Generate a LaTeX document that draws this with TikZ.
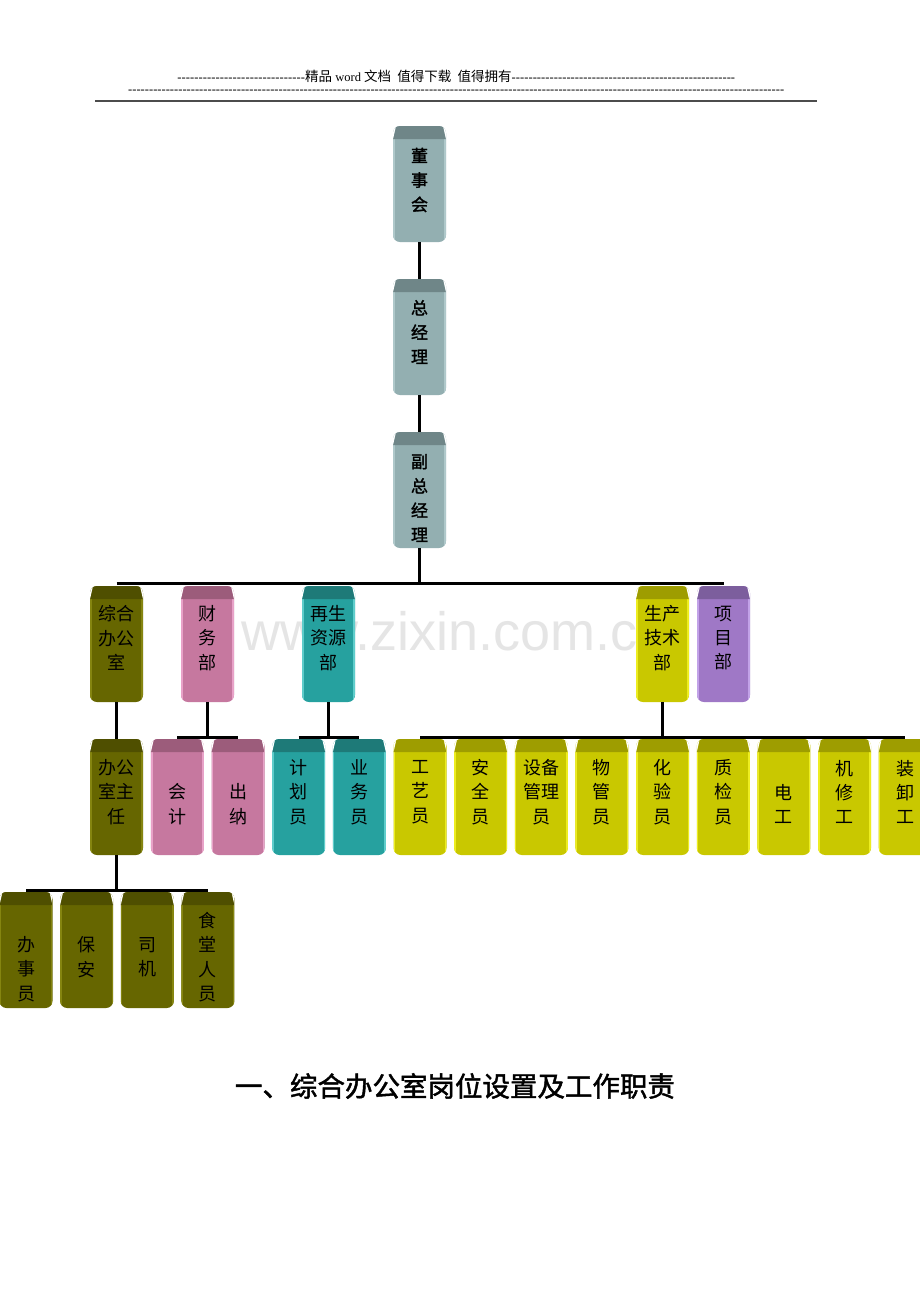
\documentclass[tikz,border=0pt]{standalone}
\usepackage{fontspec}
\setmainfont{Liberation Serif}
\newfontfamily\cjk{Noto Sans CJK SC}
\newfontfamily\cjkb[FakeBold=1.6]{Noto Sans CJK SC}
\newfontfamily\wmfont{Liberation Sans}
\definecolor{gbody}{HTML}{93AFB1}\definecolor{gcap}{HTML}{6F8688}\definecolor{gedge}{HTML}{AFC8CA}
\definecolor{obody}{HTML}{666600}\definecolor{ocap}{HTML}{4F4F00}\definecolor{oedge}{HTML}{858510}
\definecolor{pbody}{HTML}{C6789F}\definecolor{pcap}{HTML}{9C5C7B}\definecolor{pedge}{HTML}{E8A2C8}
\definecolor{tbody}{HTML}{26A19F}\definecolor{tcap}{HTML}{1E7A78}\definecolor{tedge}{HTML}{5FCDCB}
\definecolor{ybody}{HTML}{C9C800}\definecolor{ycap}{HTML}{9E9D00}\definecolor{yedge}{HTML}{EDED20}
\definecolor{vbody}{HTML}{9F78C6}\definecolor{vcap}{HTML}{7C5E9D}\definecolor{vedge}{HTML}{C2A2E8}
\tikzset{
  orgbox/.style n args={3}{minimum width=53pt, minimum height=116pt, inner sep=0pt,
    rounded corners=7pt, fill=#1,
    path picture={
      \fill[#3, sharp corners] ([yshift=-13pt]path picture bounding box.north west) rectangle ([xshift=1.6pt]path picture bounding box.south west);
      \fill[#3, sharp corners] ([yshift=-13pt]path picture bounding box.north east) rectangle ([xshift=-1.6pt]path picture bounding box.south east);
      \fill[#2, sharp corners] ([xshift=3pt]path picture bounding box.north west) -- ([xshift=-3pt]path picture bounding box.north east) -- ([yshift=-13pt]path picture bounding box.north east) -- ([yshift=-13pt]path picture bounding box.north west) -- cycle;
      \fill[white, sharp corners] (path picture bounding box.north west) -- ([xshift=3pt]path picture bounding box.north west) -- ([yshift=-13pt]path picture bounding box.north west) -- cycle;
      \fill[white, sharp corners] (path picture bounding box.north east) -- ([xshift=-3pt]path picture bounding box.north east) -- ([yshift=-13pt]path picture bounding box.north east) -- cycle;
    }},
  gbox/.style={orgbox={gbody}{gcap}{gedge}},
  obox/.style={orgbox={obody}{ocap}{oedge}},
  pbox/.style={orgbox={pbody}{pcap}{pedge}},
  tbox/.style={orgbox={tbody}{tcap}{tedge}},
  ybox/.style={orgbox={ybody}{ycap}{yedge}},
  vbox/.style={orgbox={vbody}{vcap}{vedge}},
  lbl/.style={font=\cjk\fontsize{18}{24.4}\selectfont, align=center, inner sep=0pt, text=black},
  lblb/.style={font=\cjkb\fontsize{17}{24.4}\selectfont, align=center, inner sep=0pt, text=black},
  conn/.style={line width=3pt, black},
}
\begin{document}
\begin{tikzpicture}[x=1pt,y=-1pt]
\clip (0,0) rectangle (920,1302);
\fill[white] (0,0) rectangle (920,1302);

% header
\node[anchor=west, inner sep=0pt, font=\fontsize{12.5}{14}\selectfont] (hd1) at (177,76)
  {\hbox to 558pt{\makebox[128pt]{\xleaders\hbox{-}\hfill}{\cjk\fontsize{13.5}{15}\selectfont 精品}~word~{\cjk\fontsize{13.5}{15}\selectfont 文档}~~{\cjk\fontsize{13.5}{15}\selectfont 值得下载}~~{\cjk\fontsize{13.5}{15}\selectfont 值得拥有}\xleaders\hbox{-}\hfill}};
\node[anchor=west, inner sep=0pt, font=\fontsize{12.5}{14}\selectfont] (hd2) at (128,92)
  {\makebox[656pt]{\xleaders\hbox{-}\hfill}};
\draw[line width=1.8pt, black!70] (95,101) -- (817,101);

% watermark
\node[font=\wmfont\fontsize{54}{60}\selectfont, text=black!10, anchor=base, inner sep=0pt] (wm) at (455,650) {www.zixin.com.cn};

% boxes
\node[gbox] (dsh) at (419.5,184) {};
\node[gbox] (zjl) at (419.5,337) {};
\node[gbox] (fzjl) at (419.5,490) {};
\node[obox] (zh) at (116.5,644) {};
\node[pbox] (cw) at (207.5,644) {};
\node[tbox] (zy) at (328.5,644) {};
\node[ybox] (sc) at (662.5,644) {};
\node[vbox] (xm) at (723.5,644) {};
\node[obox] (zr) at (116.5,797) {};
\node[pbox] (kj) at (177.4,797) {};
\node[pbox] (cn) at (238.05,797) {};
\node[tbox] (jh) at (298.7,797) {};
\node[tbox] (yw) at (359.35,797) {};
\node[ybox] (gy) at (420,797) {};
\node[ybox] (aq) at (480.65,797) {};
\node[ybox] (sb) at (541.3,797) {};
\node[ybox] (wg) at (601.95,797) {};
\node[ybox] (hy) at (662.6,797) {};
\node[ybox] (zj) at (723.25,797) {};
\node[ybox] (dg) at (783.9,797) {};
\node[ybox] (jx) at (844.55,797) {};
\node[ybox] (zx) at (905.2,797) {};
\node[obox] (bs) at (26,950) {};
\node[obox] (ba) at (86.65,950) {};
\node[obox] (sj) at (147.3,950) {};
\node[obox] (st) at (207.95,950) {};

% connectors
\draw[conn] (dsh.south) -- (zjl.north);
\draw[conn] (zjl.south) -- (fzjl.north);
\draw[conn] (fzjl.south) -- ++(0,35) coordinate (j1);
\draw[conn] (zh.north |- j1) -- (xm.north |- j1);
\draw[conn] (zh.south) -- (zr.north);
\draw[conn] (cw.south) -- ++(0,35) coordinate (j2);
\draw[conn] (kj.north |- j2) -- (cn.north |- j2);
\draw[conn] (zy.south) -- ++(0,35) coordinate (j3);
\draw[conn] (jh.north |- j3) -- (yw.north |- j3);
\draw[conn] (sc.south) -- ++(0,35) coordinate (j4);
\draw[conn] (gy.north |- j4) -- (zx.north |- j4);
\draw[conn] (zr.south) -- ++(0,35) coordinate (j5);
\draw[conn] (bs.north |- j5) -- (st.north |- j5);

% labels
\node[lblb] (l-dsh) at (419.5,180) {董\\事\\会};
\node[lblb] (l-zjl) at (419.5,332) {总\\经\\理};
\node[lblb] (l-fzjl) at (419.5,498) {副\\总\\经\\理};
\node[lbl] (l-zh) at (116.5,638) {综合\\办公\\室};
\node[lbl] (l-cw) at (207.5,638) {财\\务\\部};
\node[lbl] (l-zy) at (328.5,638) {再生\\资源\\部};
\node[lbl] (l-sc) at (662.5,638) {生产\\技术\\部};
\node[lbl] (l-xm) at (723.5,638) {项\\目\\部};
\node[lbl] (l-zr) at (116.5,792) {办公\\室主\\任};
\node[lbl] (l-kj) at (177.4,804) {会\\计};
\node[lbl] (l-cn) at (238.05,804) {出\\纳};
\node[lbl] (l-jh) at (298.7,792) {计\\划\\员};
\node[lbl] (l-yw) at (359.35,792) {业\\务\\员};
\node[lbl] (l-gy) at (420,792) {工\\艺\\员};
\node[lbl] (l-aq) at (480.65,792) {安\\全\\员};
\node[lbl] (l-sb) at (541.3,792) {设备\\管理\\员};
\node[lbl] (l-wg) at (601.95,792) {物\\管\\员};
\node[lbl] (l-hy) at (662.6,792) {化\\验\\员};
\node[lbl] (l-zj) at (723.25,792) {质\\检\\员};
\node[lbl] (l-dg) at (783.9,804) {电\\工};
\node[lbl] (l-jx) at (844.55,792) {机\\修\\工};
\node[lbl] (l-zx) at (905.2,792) {装\\卸\\工};
\node[lbl] (l-bs) at (26,969) {办\\事\\员};
\node[lbl] (l-ba) at (86.65,957) {保\\安};
\node[lbl] (l-sj) at (147.3,957) {司\\机};
\node[lbl] (l-st) at (207.95,957) {食\\堂\\人\\员};

% title
\node[font=\cjkb\fontsize{27.5}{30}\selectfont, inner sep=0pt] (title) at (455,1086) {一、综合办公室岗位设置及工作职责};
\end{tikzpicture}
\end{document}
